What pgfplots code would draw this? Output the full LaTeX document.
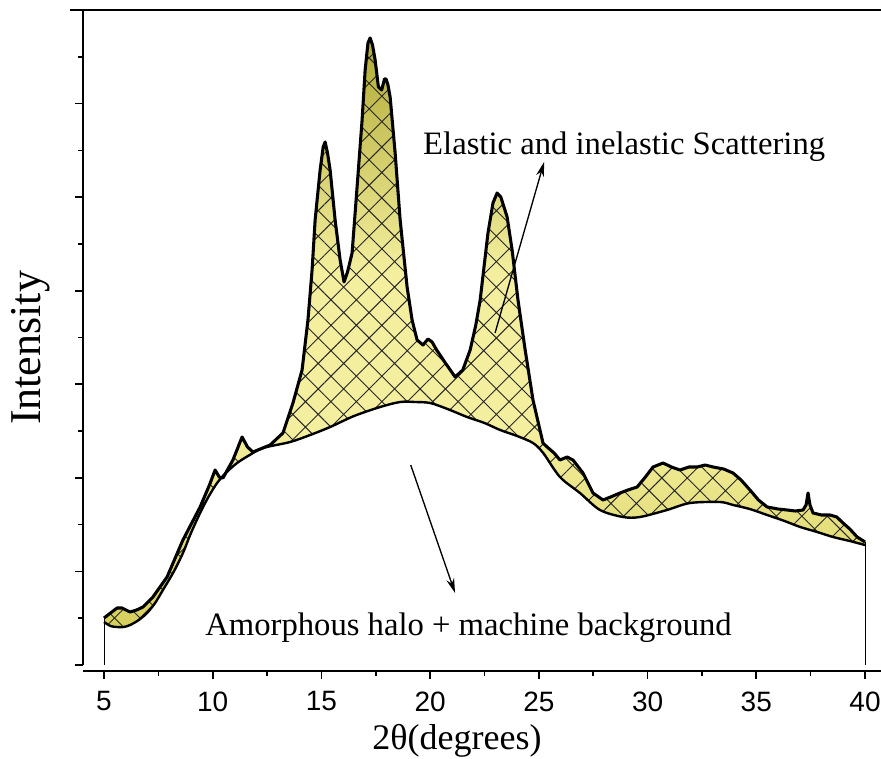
\documentclass[border=0pt]{standalone}
\usepackage{fontspec}
\setmainfont{Liberation Serif}
\newfontfamily\arial{Liberation Sans}
\usepackage{pgfplots}
\usepackage{pgfplotstable}
\pgfplotsset{compat=1.18}
\usepgfplotslibrary{fillbetween}
\usetikzlibrary{patterns.meta,arrows.meta}
\definecolor{c1}{HTML}{B0AA35}
\definecolor{c2}{HTML}{F4EF9E}
\definecolor{c3}{HTML}{D6CE5C}
\pgfdeclareverticalshading{xrd}{100bp}{color(0bp)=(c3); color(25bp)=(c3); color(42bp)=(c2); color(55bp)=(c2); color(75bp)=(c1); color(100bp)=(c1)}

\pgfplotstableread{
x y
5.00 47
5.30 52
5.60 57
5.83 57
6.20 53
6.50 55
6.79 58
7.25 68
7.90 88
8.63 125
9.42 158
9.85 180
10.11 195
10.30 188
10.47 187
10.93 205
11.35 228
11.60 218
11.85 213
12.64 220
13.23 232
13.69 262
14.11 295
14.38 345
14.57 395
14.71 445
14.94 495
15.08 518
15.17 523
15.28 512
15.40 495
15.63 445
15.86 405
16.04 383
16.20 393
16.41 412
16.64 478
16.87 545
17.01 595
17.14 622
17.24 627
17.35 620
17.47 605
17.62 578
17.77 575
17.90 586
17.97 586
18.06 580
18.16 568
18.39 512
18.62 445
18.94 378
19.17 345
19.40 325
19.67 320
19.90 326
20.09 323
20.30 315
20.70 302
21.15 288
21.50 295
21.84 315
22.10 340
22.30 365
22.66 432
22.89 462
23.08 472
23.25 468
23.54 448
23.77 415
24.04 365
24.37 315
24.73 265
25.19 222
25.38 218
25.70 212
25.97 205
26.30 208
26.57 205
27.03 192
27.49 172
27.95 165
28.30 168
28.73 172
29.10 175
29.52 178
29.90 188
30.25 198
30.71 202
31.10 198
31.49 195
31.90 198
32.28 198
32.65 200
33.01 198
33.50 196
33.93 192
34.30 185
34.71 175
35.10 165
35.50 158
36.00 156
36.42 155
36.80 154
37.15 155
37.29 160
37.38 172
37.47 160
37.61 152
38.00 150
38.39 150
38.70 148
38.99 142
39.30 136
39.64 128
40.00 123
}\datatop

\pgfplotstableread{
x y
5.00 43
5.30 39
5.60 38
5.90 38
6.20 40
6.60 45
6.98 52
7.35 62
7.71 75
8.20 93
8.63 112
9.00 132
9.42 152
9.80 168
10.20 182
10.60 192
11.12 202
11.70 210
12.31 217
13.56 223
14.48 230
15.40 238
16.50 249
17.70 258
18.62 263
19.30 263
20.00 262
20.80 256
21.70 248
22.50 242
23.22 235
24.00 229
24.73 222
25.20 212
25.97 188
26.89 172
27.81 155
28.87 148
29.65 148
30.89 155
31.95 162
33.33 163
33.93 160
34.70 156
35.50 150
36.30 144
37.02 138
37.80 133
38.53 128
39.30 124
40.00 120
}\databg

\begin{document}
\begin{tikzpicture}
\begin{axis}[
  scale only axis, width=598.5pt, height=491.25pt,
  xmin=4.034, xmax=40.736, ymin=0, ymax=655,
  axis x line=bottom, axis y line=left,
  axis line style={-, line width=1.4pt},
  axis x line shift=4.5pt,
  xtick={5,10,...,40}, minor x tick num=1,
  ytick={0,93.57,187.14,280.71,374.28,467.85,561.42},
  minor ytick={46.785,140.355,233.925,327.495,421.065,514.635,608.205},
  yticklabels={},
  tick align=outside,
  major tick length=6pt, minor tick length=3.75pt,
  every tick/.style={black, line width=1.2pt},
  /pgf/number format/assume math mode=true,
  xticklabel style={font=\arial\fontsize{21}{21}\selectfont, yshift=-6pt},
  xlabel={2θ(degrees)}, ylabel={Intensity},
  xlabel style={font=\fontsize{27}{27}\selectfont, at={(rel axis cs:0.4687,-0.116)}, anchor=center},
  ylabel style={font=\fontsize{33}{33}\selectfont, at={(rel axis cs:-0.0652,0.484)}, anchor=center},
  clip=false,
]
\addplot[name path=T, draw=black, line width=2.3pt, line join=round] table {\datatop};
\addplot[name path=B, draw=black, line width=1.8pt, smooth] table {\databg};
\addplot[shade, shading=xrd] fill between[of=T and B];
\addplot[pattern={Hatch[angle=45,distance=13.5pt,line width=0.7pt]}, pattern color=black!85] fill between[of=T and B];
\addplot[black, line width=0.7pt] coordinates {(5,0) (5,47)};
\addplot[black, line width=0.7pt] coordinates {(40,0) (40,123)};
\node[anchor=base west, inner sep=0, font=\fontsize{24.5}{24.5}\selectfont] at (axis cs:19.67,510) {Elastic and inelastic Scattering};
\node[anchor=base west, inner sep=0, font=\fontsize{24.5}{24.5}\selectfont] at (axis cs:9.646,30) {Amorphous halo + machine background};
\draw[line width=1pt, -{Stealth[length=11pt,width=6pt]}] (axis cs:22.985,332) -- (axis cs:25.24,503);
\draw[line width=1pt, -{Stealth[length=11pt,width=6pt]}] (axis cs:19.107,200) -- (axis cs:21.145,72);
\draw[line width=1.4pt] ([xshift=-9.75pt]rel axis cs:0,1) -- ([xshift=20pt]rel axis cs:1,1);
\coordinate (LL) at (rel axis cs:0,0);
\coordinate (UR) at (rel axis cs:1,1);
\end{axis}
\pgfresetboundingbox
\path[use as bounding box] ([xshift=-62.25pt,yshift=-69.75pt]LL) rectangle ([yshift=7.5pt]UR);
\end{tikzpicture}
\end{document}
